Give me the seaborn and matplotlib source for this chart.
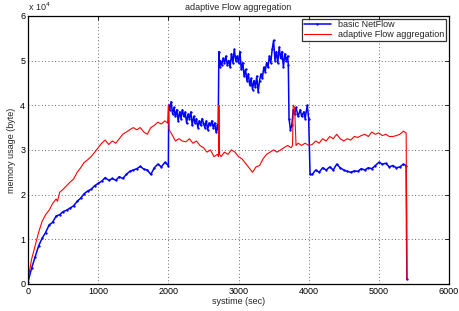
import matplotlib
matplotlib.use('Agg')
import matplotlib.pyplot as plt
import matplotlib.ticker as mticker
import seaborn as sns
import pandas as pd

# basic NetFlow (memory in units of 1e4 byte)
blue_t = [0, 50, 100, 150, 200, 250, 300, 350, 400, 450, 500, 550, 600, 650, 700, 750, 800, 850, 900, 950,
          1000, 1050, 1100, 1150, 1200, 1250, 1300, 1350, 1400, 1450, 1500, 1550, 1600, 1650, 1700, 1750,
          1800, 1850, 1900, 1950, 2000,
          2005, 2020, 2040, 2060, 2080, 2100, 2120, 2140, 2160, 2180, 2200, 2220, 2240, 2260, 2280, 2300,
          2320, 2340, 2360, 2380, 2400, 2420, 2440, 2460, 2480, 2500, 2520, 2540, 2560, 2580, 2600, 2620,
          2640, 2660, 2680, 2700, 2710,
          2720, 2730, 2740, 2760, 2780, 2800, 2820, 2840, 2860, 2880, 2900, 2920, 2940, 2960, 2980, 3000,
          3020, 3040, 3060, 3080, 3100, 3120, 3140, 3160, 3180, 3200, 3220, 3240, 3260, 3280, 3300, 3320,
          3340, 3360, 3380, 3400, 3420, 3440, 3460, 3480, 3500, 3520, 3540, 3560, 3580, 3600, 3620, 3640,
          3660, 3680, 3700, 3710,
          3720, 3740, 3760, 3780, 3800, 3820, 3850, 3880, 3900, 3930, 3950, 3980, 4000, 4020, 4050, 4100,
          4150, 4200, 4250, 4300, 4350, 4400, 4450, 4500, 4550, 4600, 4650, 4700, 4750, 4800, 4850, 4900,
          4950, 5000, 5050, 5100, 5150, 5200, 5250, 5300, 5350, 5390, 5400]
blue_v = [0.05, 0.35, 0.6, 0.85, 1.02, 1.15, 1.32, 1.38, 1.52, 1.55, 1.62, 1.65, 1.7, 1.75, 1.85, 1.92, 2.02, 2.08, 2.12, 2.2,
          2.25, 2.3, 2.38, 2.32, 2.36, 2.32, 2.4, 2.36, 2.45, 2.52, 2.55, 2.58, 2.63, 2.57, 2.55, 2.45,
          2.6, 2.68, 2.62, 2.72, 2.65,
          4.0, 3.9, 4.08, 3.8, 3.95, 3.75, 3.9, 3.65, 3.85, 3.7, 3.9, 3.75, 3.85, 3.6, 3.8, 3.7,
          3.85, 3.55, 3.75, 3.6, 3.7, 3.5, 3.65, 3.55, 3.7, 3.6, 3.5, 3.65, 3.45, 3.6, 3.55, 3.65,
          3.5, 3.6, 3.4, 3.55, 3.45,
          5.2, 4.85, 5.0, 4.9, 5.05, 4.95, 5.1, 4.9, 5.0, 4.85, 5.15, 4.95, 5.25, 5.0, 5.1, 4.95,
          5.2, 4.8, 4.95, 4.65, 4.8, 4.55, 4.7, 4.45, 4.6, 4.35, 4.55, 4.4, 4.65, 4.3, 4.55, 4.7,
          4.6, 4.85, 4.75, 4.95, 4.85, 5.1, 4.95, 5.25, 5.45, 5.0, 5.2, 4.95, 5.3, 5.05, 5.2, 4.85,
          5.15, 5.0, 5.1, 4.9,
          3.7, 3.45, 3.55, 3.9, 3.8, 3.95, 3.75, 3.9, 3.75, 3.85, 3.7, 4.0, 3.7, 2.45, 2.45, 2.55,
          2.5, 2.6, 2.55, 2.62, 2.55, 2.68, 2.6, 2.55, 2.52, 2.5, 2.53, 2.52, 2.58, 2.55, 2.6, 2.58,
          2.65, 2.72, 2.68, 2.7, 2.62, 2.65, 2.6, 2.62, 2.68, 2.65, 0.1]

# adaptive Flow aggregation
red_t = [0, 50, 100, 150, 200, 250, 300, 350, 400, 420, 450, 500, 550, 600, 650, 700, 750, 800, 850, 900, 950,
         1000, 1050, 1100, 1150, 1200, 1250, 1300, 1350, 1400, 1450, 1500, 1550, 1600, 1650, 1700, 1750,
         1800, 1850, 1900, 1950, 1990, 2000, 2010, 2050, 2100, 2150, 2200, 2250, 2300, 2350, 2400, 2450,
         2500, 2550, 2600, 2650, 2700, 2715, 2720, 2730, 2750, 2800, 2850, 2900, 2950, 3000, 3050, 3100,
         3150, 3200, 3250, 3300, 3350, 3400, 3450, 3500, 3550, 3600, 3650, 3700, 3750, 3770, 3780, 3800,
         3820, 3850, 3900, 3950, 4000, 4050, 4100, 4150, 4200, 4250, 4300, 4350, 4400, 4450, 4500, 4550,
         4600, 4650, 4700, 4750, 4800, 4850, 4900, 4950, 5000, 5050, 5100, 5150, 5200, 5250, 5300, 5350, 5390, 5400]
red_v = [0.1, 0.55, 0.85, 1.15, 1.4, 1.55, 1.65, 1.8, 1.9, 1.85, 2.05, 2.12, 2.2, 2.28, 2.35, 2.5, 2.6, 2.72, 2.78, 2.85, 2.95,
         3.05, 3.15, 3.22, 3.12, 3.2, 3.15, 3.25, 3.35, 3.4, 3.45, 3.5, 3.45, 3.5, 3.4, 3.35, 3.5,
         3.55, 3.62, 3.58, 3.65, 3.6, 4.0, 3.45, 3.35, 3.2, 3.25, 3.2, 3.18, 3.25, 3.15, 3.2, 3.1,
         3.05, 2.95, 3.0, 2.85, 2.9, 2.85, 4.0, 2.9, 2.85, 2.95, 2.9, 3.0, 2.95, 2.85, 2.8, 2.7,
         2.6, 2.5, 2.62, 2.65, 2.8, 2.9, 2.95, 3.0, 2.95, 3.0, 3.05, 3.1, 3.05, 3.1, 4.0, 3.95,
         3.1, 3.15, 3.1, 3.15, 3.1, 3.12, 3.2, 3.15, 3.25, 3.2, 3.3, 3.25, 3.35, 3.25, 3.2, 3.25,
         3.22, 3.3, 3.28, 3.32, 3.35, 3.3, 3.4, 3.35, 3.38, 3.32, 3.35, 3.3, 3.3, 3.32, 3.35, 3.42, 3.38, 0.1]

blue = pd.DataFrame({'t': blue_t, 'mem': [v * 1e4 for v in blue_v]})
red = pd.DataFrame({'t': red_t, 'mem': [v * 1e4 for v in red_v]})

sns.set_style('white')
plt.rcParams['font.family'] = ['Liberation Sans', 'DejaVu Sans']

fig, ax = plt.subplots(figsize=(4.6, 3.11), dpi=100)
fig.subplots_adjust(left=0.061, right=0.976, top=0.949, bottom=0.087)

sns.lineplot(data=blue, x='t', y='mem', ax=ax, color='#0000ff', lw=1.1, marker='.', ms=1.8,
             mec='#0000ff', estimator=None, sort=False, label='basic NetFlow')
sns.lineplot(data=red, x='t', y='mem', ax=ax, color='#ff0000', lw=0.8,
             estimator=None, sort=False, label='adaptive Flow aggregation')

ax.set_xlim(0, 6000)
ax.set_ylim(0, 60000)
ax.set_xticks(range(0, 6001, 1000))
ax.set_yticks(range(0, 60001, 10000))
fmt = mticker.ScalarFormatter(useMathText=False)
fmt.set_powerlimits((4, 4))
ax.yaxis.set_major_formatter(fmt)
ax.yaxis.get_offset_text().set_visible(False)
ax.text(0.0, 1.012, r'x 10$^4$', transform=ax.transAxes, fontsize=6.5, ha='left', va='bottom')

ax.grid(True, color='#333333', linestyle=(0, (1, 3)), linewidth=0.6)
for s in ax.spines.values():
    s.set_color('black')
    s.set_linewidth(0.9)
ax.tick_params(direction='in', length=3, width=0.6, labelsize=6.5, top=True, right=True, pad=2, colors='black')

ax.set_title('adaptive Flow aggregation', fontsize=6.5, pad=4)
ax.set_xlabel('systime (sec)', fontsize=6.5, labelpad=1)
ax.set_ylabel('memory usage (byte)', fontsize=6.5, labelpad=3)

leg = ax.legend(loc='upper right', fontsize=6.5, frameon=True, fancybox=False, borderaxespad=0.3,
                handlelength=3, borderpad=0.2, labelspacing=0.1)
leg.get_frame().set_edgecolor('black')
leg.get_frame().set_linewidth(0.9)

plt.savefig('out.png', dpi=100)
